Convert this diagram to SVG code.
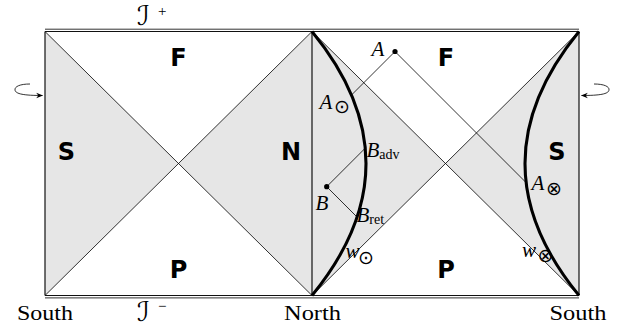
<svg xmlns="http://www.w3.org/2000/svg" width="630" height="331" viewBox="0 0 630 331">
<style>
.shade{fill:#e6e6e6;stroke:none}
.thin{stroke:#000;stroke-width:0.8;fill:none}
.edge{stroke:#111;stroke-width:1.2;fill:none}
.scri{stroke:#333;stroke-width:1;fill:none}
.world{stroke:#000;stroke-width:3;fill:none}
.reg{font-family:"DejaVu Sans",sans-serif;font-weight:bold;font-size:24px;text-anchor:middle;fill:#000}
.math{font-family:"Liberation Serif",serif;font-style:italic;font-size:21px;fill:#000}
.sub{font-family:"Liberation Serif",serif;font-style:normal;font-size:14px}
.sym{font-family:"DejaVu Sans",sans-serif;font-style:normal;font-size:19px;text-anchor:middle}
.rm{font-family:"Liberation Serif",serif;font-size:20px;fill:#000}
.scr{font-family:"DejaVu Sans",sans-serif;font-size:27px;fill:#000}
.sup{font-family:"Liberation Serif",serif;font-size:15px}
</style>
<defs>
<marker id="ah" viewBox="0 0 10 10" refX="9" refY="5" markerWidth="7" markerHeight="7" orient="auto" markerUnits="userSpaceOnUse">
<path d="M0,1 L10,5 L0,9 L3,5 Z" fill="#000"/>
</marker>
</defs>
<rect width="630" height="331" fill="#fff"/>
<g id="shading">
<polygon class="shade" points="45,31.5 178.5,163.5 45,295.5"/>
<polygon class="shade" points="312,31.5 178.5,163.5 312,295.5"/>
<polygon class="shade" points="312,31.5 445.5,163.5 312,295.5"/>
<polygon class="shade" points="579,31.5 445.5,163.5 579,295.5"/>
</g>
<g id="frame">
<line class="thin" x1="45" y1="31.5" x2="312" y2="295.5"/>
<line class="thin" x1="45" y1="295.5" x2="312" y2="31.5"/>
<line class="thin" x1="312" y1="31.5" x2="579" y2="295.5"/>
<line class="thin" x1="312" y1="295.5" x2="579" y2="31.5"/>
<line class="edge" x1="45" y1="31.5" x2="45" y2="295.5"/>
<line class="edge" x1="312" y1="31.5" x2="312" y2="295.5"/>
<line class="edge" x1="579" y1="31.5" x2="579" y2="295.5"/>
<line class="scri" x1="45" y1="29.2" x2="579" y2="29.2"/>
<line class="edge" x1="45" y1="31.5" x2="579" y2="31.5"/>
<line class="edge" x1="45" y1="295.5" x2="579" y2="295.5"/>
<line class="scri" x1="45" y1="297.9" x2="579" y2="297.9"/>
</g>
<g id="worldlines">
<path class="world" d="M312,31.5 Q420,163.5 312,295.5"/>
<path class="world" d="M579,31.5 Q471,163.5 579,295.5"/>
</g>
<g id="connectors">
<line class="thin" x1="395" y1="51.5" x2="351.5" y2="95"/>
<line class="thin" x1="395" y1="51.5" x2="526.1" y2="182.6"/>
<line class="thin" x1="326.7" y1="186.7" x2="365.3" y2="148.1"/>
<line class="thin" x1="326.7" y1="186.7" x2="357.1" y2="217.1"/>
<path class="thin" d="M30,84 C20,84 14.5,86.5 15,90 C15.5,94 24,95.5 42.5,95.5" marker-end="url(#ah)"/>
<path class="thin" d="M594,84 C604,84 609.5,86.5 609,90 C608.5,94 600,95.5 581.5,95.5" marker-end="url(#ah)"/>
</g>
<g id="node-A">
<circle cx="395" cy="51.5" r="2.6" fill="#000"/>
<text class="math" x="371.5" y="56">A</text>
</g>
<g id="node-B">
<circle cx="326.7" cy="186.7" r="2.6" fill="#000"/>
<text class="math" x="315.5" y="210">B</text>
</g>
<g id="labels">
<text class="math" x="319.5" y="109">A</text><text class="sym" x="342" y="113">⊙</text>
<text class="math" x="366.5" y="157">B<tspan class="sub" dy="2">adv</tspan></text>
<text class="math" x="356.5" y="221.5">B<tspan class="sub" dy="2">ret</tspan></text>
<text class="math" x="345.5" y="258">w</text><text class="sym" x="366" y="263.5">⊙</text>
<text class="math" x="531.5" y="190">A</text><text class="sym" x="554" y="194.5">⊗</text>
<text class="math" x="522" y="256.5">w</text><text class="sym" x="545.5" y="261.5">⊗</text>
</g>
<g id="regions">
<text class="reg" x="178.5" y="66">F</text>
<text class="reg" x="446" y="66">F</text>
<text class="reg" x="66.5" y="159.5">S</text>
<text class="reg" x="291" y="159.5">N</text>
<text class="reg" x="557" y="159.5">S</text>
<text class="reg" x="178.5" y="278">P</text>
<text class="reg" x="446" y="278">P</text>
</g>
<g id="boundary-labels">
<text class="scr" x="137" y="25">ℐ<tspan class="sup" x="158" y="16">+</tspan></text>
<text class="scr" x="137" y="321">ℐ<tspan class="sup" x="158" y="311">−</tspan></text>
<text class="rm" x="17" y="319.5" textLength="56" lengthAdjust="spacingAndGlyphs">South</text>
<text class="rm" x="284" y="319.5" textLength="57" lengthAdjust="spacingAndGlyphs">North</text>
<text class="rm" x="549.5" y="319.5" textLength="57" lengthAdjust="spacingAndGlyphs">South</text>
</g>
</svg>
